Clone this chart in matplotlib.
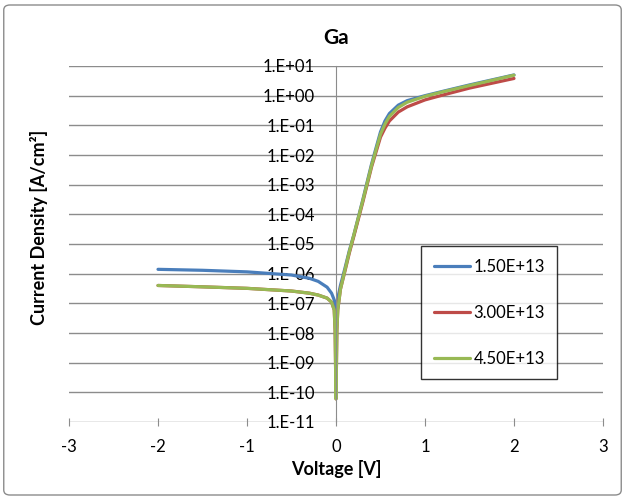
import numpy as np
import matplotlib.pyplot as plt
from matplotlib.patches import FancyBboxPatch
from matplotlib.ticker import FixedLocator, FuncFormatter

plt.rcParams['font.family'] = ['Lato', 'DejaVu Sans']
plt.rcParams['axes.unicode_minus'] = False

# voltage points [V]
voltage = [-2.0, -1.5, -1.0, -0.5, -0.3, -0.2, -0.1, -0.05, -0.02, -0.01, 0.0,
           0.01, 0.02, 0.05, 0.1, 0.15, 0.2, 0.3, 0.4, 0.5, 0.55, 0.6, 0.7,
           0.8, 1.0, 1.2, 1.5, 2.0]

# current density [A/cm2] per dose
j_15 = [1.4e-6, 1.3e-6, 1.15e-6, 9e-7, 7e-7, 5.5e-7, 3.5e-7, 2.2e-7, 1.3e-7, 9e-8, 6e-8,
        9e-8, 1.5e-7, 4e-7, 1.5e-6, 6e-6, 2e-5, 3e-4, 5e-3, 6e-2, 1.4e-1, 2.5e-1, 4.8e-1,
        0.68, 1.0, 1.4, 2.3, 5.0]
j_30 = [4e-7, 3.6e-7, 3.2e-7, 2.6e-7, 2.2e-7, 1.9e-7, 1.5e-7, 1.1e-7, 6e-8, 1.2e-8, 6e-11,
        1.2e-8, 6e-8, 3e-7, 1.2e-6, 5e-6, 1.8e-5, 2.5e-4, 4e-3, 4e-2, 8e-2, 1.4e-1, 2.8e-1,
        0.42, 0.72, 1.05, 1.8, 3.8]
j_45 = [4e-7, 3.6e-7, 3.2e-7, 2.6e-7, 2.2e-7, 1.9e-7, 1.5e-7, 1.1e-7, 6e-8, 1.2e-8, 6e-11,
        1.2e-8, 6e-8, 3e-7, 1.3e-6, 5.5e-6, 2e-5, 2.8e-4, 4.5e-3, 5e-2, 1.1e-1, 2e-1, 4e-1,
        0.6, 0.95, 1.35, 2.2, 4.9]

labels = ['1.50E+13', '3.00E+13', '4.50E+13']
colors = ['#4A7EBB', '#BE4B48', '#98B954']

fig = plt.figure(figsize=(6.25, 5), dpi=100)
fig.patches.append(FancyBboxPatch((0.006, 0.01), 0.988, 0.98, boxstyle='round,pad=0,rounding_size=0.01',
                                  transform=fig.transFigure, fill=False, ec='#8c8c8c', lw=1))
ax = fig.add_axes([0.1104, 0.156, 0.8544, 0.712])

for j, lab, c in zip([j_15, j_30, j_45], labels, colors):
    ax.plot(voltage, j, color=c, lw=2.3, label=lab, solid_capstyle='round')

ax.set_yscale('log')
ax.set_xlim(-3, 3)
ax.set_ylim(1e-11, 1e1)
ax.yaxis.set_major_locator(FixedLocator([10.0 ** k for k in range(-11, 2)]))
ax.yaxis.set_minor_locator(FixedLocator([]))
ax.yaxis.set_major_formatter(FuncFormatter(lambda v, p: '1.E%+03d' % round(np.log10(v))))
ax.set_xticks(range(-3, 4))
ax.grid(axis='y', color='#8c8c8c', lw=1)
ax.set_axisbelow(True)

for s in ['top', 'right', 'bottom']:
    ax.spines[s].set_visible(False)
ax.spines['left'].set_position(('data', 0))
ax.spines['left'].set_color('#8c8c8c')
ax.tick_params(axis='y', length=0, labelsize=12, pad=15)
ax.tick_params(axis='x', direction='inout', length=6, color='#8c8c8c', labelsize=12, pad=9)

ax.set_title('Ga', fontsize=15, fontweight='bold', pad=16)
ax.set_xlabel('Voltage [V]', fontsize=13, fontweight='bold', labelpad=4)
fig.text(0.063, 0.546, 'Current Density [A/cm²]', rotation=90, fontsize=13,
         fontweight='bold', ha='center', va='center')

leg = ax.legend(loc='upper left', bbox_to_anchor=(421 / 625, 1 - 246 / 500), bbox_transform=fig.transFigure,
                frameon=True, fancybox=False, edgecolor='black', fontsize=12, borderaxespad=0,
                labelspacing=1.8, handlelength=2.2, handletextpad=0.2, borderpad=0.75)
leg.get_frame().set_linewidth(1)

fig.savefig('out.png', dpi=100)
